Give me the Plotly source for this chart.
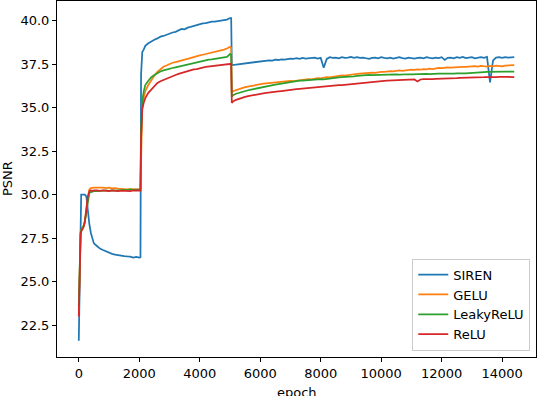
import plotly.graph_objects as go

# sampling grid of the training curves (epochs)
EPOCHS = ([0, 20, 40, 60, 80, 100, 150, 200, 250, 300, 350, 400, 450, 500]
          + list(range(600, 2001, 100))
          + [2040, 2060, 2080, 2100, 2150]
          + list(range(2200, 5001, 100))
          + [5040, 5060, 5100]
          + list(range(5200, 14401, 100)))

SIREN = [
    21.6, 24.5, 27.5, 29.5, 30.0, 30.0, 30.0, 30.0, 29.9, 29.0, 28.3, 27.8, 27.45, 27.2,
    27.05, 26.9, 26.82, 26.74, 26.66, 26.6, 26.56, 26.52, 26.5, 26.47, 26.45, 26.44, 26.38, 26.42, 26.38,
    26.4, 36.9, 37.8, 38.2, 38.35,
    38.55, 38.7, 38.82, 38.9, 38.98, 39.08, 39.12, 39.2, 39.25, 39.32, 39.36, 39.42, 39.52, 39.5, 39.6,
    39.64, 39.7, 39.74, 39.78, 39.84, 39.86, 39.92, 39.95, 39.94, 39.98, 40.0, 40.03, 40.06, 40.15,
    40.15, 37.5, 37.45,
    37.48, 37.5, 37.56, 37.55, 37.6, 37.58, 37.64, 37.62, 37.68, 37.66,
    37.7, 37.72, 37.7, 37.76, 37.74, 37.78, 37.76, 37.8, 37.82, 37.8,
    37.84, 37.8, 37.86, 37.82, 37.85, 37.84, 37.88, 37.82, 37.86, 37.3,
    37.8, 37.9, 37.86, 37.88, 37.84, 37.9, 37.86, 37.88, 37.92, 37.86,
    37.9, 37.86, 37.88, 37.84, 37.8, 37.86, 37.88, 37.84, 37.9, 37.86,
    37.84, 37.88, 37.82, 37.86, 37.9, 37.85, 37.82, 37.88, 37.86, 37.82,
    37.86, 37.88, 37.84, 37.9, 37.86, 37.84, 37.88, 37.85, 37.9, 37.74,
    37.86, 37.88, 37.84, 37.9, 37.86, 37.92, 37.85, 37.88, 37.9, 37.84,
    37.88, 37.9, 37.86, 37.92, 36.45, 37.72, 37.88, 37.9, 37.86, 37.9,
    37.88, 37.9, 37.9,
]

GELU = [
    23.3, 25.5, 27.2, 27.8, 27.95, 28.05, 28.15, 28.5, 29.2, 29.9, 30.3, 30.38, 30.4, 30.4,
    30.4, 30.42, 30.4, 30.38, 30.4, 30.36, 30.38, 30.35, 30.33, 30.34, 30.31, 30.32, 30.3, 30.3, 30.3,
    30.3, 33.0, 34.5, 35.1, 35.6,
    35.95, 36.3, 36.6, 36.85, 37.05, 37.2, 37.35, 37.42, 37.52, 37.58, 37.62, 37.68, 37.72, 37.76, 37.8,
    37.86, 37.9, 37.95, 38.0, 38.04, 38.08, 38.12, 38.15, 38.2, 38.25, 38.3, 38.34, 38.4, 38.5,
    38.45, 35.85, 35.95,
    36.02, 36.08, 36.12, 36.18, 36.22, 36.26, 36.3, 36.32, 36.35, 36.38,
    36.4, 36.42, 36.44, 36.43, 36.46, 36.48, 36.5, 36.52, 36.54, 36.53,
    36.56, 36.58, 36.6, 36.62, 36.64, 36.63, 36.66, 36.7, 36.68, 36.72,
    36.75, 36.74, 36.78, 36.8, 36.82, 36.86, 36.84, 36.88, 36.9, 36.92,
    36.94, 36.96, 36.95, 36.98, 37.0, 37.02, 37.0, 37.04, 37.06, 37.05,
    37.08, 37.1, 37.08, 37.12, 37.14, 37.12, 37.15, 37.16, 37.18, 37.17,
    37.2, 37.18, 37.22, 37.2, 37.24, 37.22, 37.26, 37.28, 37.27, 37.3,
    37.32, 37.3, 37.32, 37.34, 37.32, 37.35, 37.34, 37.36, 37.35, 37.38,
    37.36, 37.4, 37.38, 37.36, 37.4, 37.38, 37.42, 37.4, 37.38, 37.42,
    37.44, 37.42, 37.45,
]

LEAKY_RELU = [
    23.6, 25.8, 27.3, 27.85, 27.95, 28.05, 28.15, 28.45, 29.0, 29.7, 30.1, 30.15, 30.18, 30.2,
    30.2, 30.22, 30.2, 30.24, 30.22, 30.25, 30.23, 30.26, 30.25, 30.28, 30.26, 30.3, 30.28, 30.3, 30.32,
    30.3, 33.6, 34.9, 35.4, 35.95,
    36.3, 36.55, 36.75, 36.88, 37.0, 37.08, 37.14, 37.2, 37.25, 37.28, 37.32, 37.36, 37.4, 37.45, 37.5,
    37.56, 37.6, 37.64, 37.68, 37.7, 37.72, 37.76, 37.78, 37.8, 37.84, 37.86, 37.88, 37.92, 38.08,
    38.05, 35.62, 35.72,
    35.8, 35.86, 35.92, 35.96, 36.0, 36.04, 36.08, 36.12, 36.15, 36.18,
    36.22, 36.25, 36.28, 36.32, 36.35, 36.38, 36.42, 36.45, 36.5, 36.52,
    36.53, 36.55, 36.56, 36.58, 36.58, 36.6, 36.62, 36.62, 36.64, 36.63,
    36.66, 36.68, 36.7, 36.72, 36.74, 36.76, 36.76, 36.78, 36.8, 36.8,
    36.82, 36.84, 36.85, 36.86, 36.88, 36.87, 36.88, 36.89, 36.88, 36.9,
    36.9, 36.89, 36.9, 36.91, 36.9, 36.92, 36.91, 36.92, 36.92, 36.93,
    36.93, 36.93, 36.92, 36.94, 36.93, 36.95, 36.94, 36.95, 36.96, 36.95,
    36.96, 36.95, 36.96, 36.97, 36.96, 36.98, 36.97, 36.98, 37.0, 37.0,
    37.02, 37.02, 37.04, 37.05, 37.06, 37.06, 37.07, 37.07, 37.06, 37.07,
    37.07, 37.08, 37.07,
]

RELU = [
    23.0, 25.0, 27.0, 27.7, 27.88, 27.95, 28.1, 28.4, 29.2, 29.9, 30.2, 30.24, 30.22, 30.25,
    30.24, 30.22, 30.25, 30.23, 30.2, 30.24, 30.22, 30.2, 30.23, 30.21, 30.22, 30.2, 30.24, 30.22, 30.23,
    30.23, 33.2, 34.3, 34.9, 35.3,
    35.55, 35.85, 36.05, 36.25, 36.42, 36.52, 36.6, 36.68, 36.76, 36.82, 36.88, 36.94, 37.0, 37.04, 37.08,
    37.14, 37.2, 37.22, 37.28, 37.3, 37.34, 37.36, 37.4, 37.42, 37.45, 37.48, 37.5, 37.52, 37.54,
    37.52, 35.28, 35.35,
    35.45, 35.52, 35.58, 35.62, 35.66, 35.7, 35.74, 35.78, 35.8, 35.82,
    35.85, 35.88, 35.9, 35.92, 35.93, 35.95, 35.98, 36.0, 36.02, 36.04,
    36.06, 36.08, 36.1, 36.12, 36.13, 36.15, 36.16, 36.18, 36.2, 36.22,
    36.24, 36.25, 36.26, 36.28, 36.3, 36.3, 36.32, 36.34, 36.36, 36.38,
    36.38, 36.4, 36.42, 36.44, 36.46, 36.48, 36.5, 36.5, 36.52, 36.54,
    36.55, 36.56, 36.58, 36.58, 36.6, 36.6, 36.62, 36.6, 36.62, 36.62,
    36.5, 36.62, 36.64, 36.63, 36.65, 36.64, 36.66, 36.66, 36.68, 36.67,
    36.68, 36.69, 36.7, 36.7, 36.71, 36.72, 36.72, 36.73, 36.72, 36.74,
    36.74, 36.75, 36.75, 36.76, 36.75, 36.76, 36.76, 36.77, 36.76, 36.76,
    36.76, 36.77, 36.76,
]

SERIES = [
    ("SIREN", SIREN, "#1f77b4"),
    ("GELU", GELU, "#ff7f0e"),
    ("LeakyReLU", LEAKY_RELU, "#2ca02c"),
    ("ReLU", RELU, "#d62728"),
]

X_TICKS = [0, 2000, 4000, 6000, 8000, 10000, 12000, 14000]
X_LABELS = ["0", "2000", "4000", "6000", "8000", "10000", "12000", "14000"]
Y_TICKS = [22.5, 25.0, 27.5, 30.0, 32.5, 35.0, 37.5, 40.0]
Y_LABELS = ["22.5", "25.0", "27.5", "30.0", "32.5", "35.0", "37.5", "40.0"]

FONT = "DejaVu Sans, sans-serif"

fig = go.Figure()
for name, values, color in SERIES:
    fig.add_trace(go.Scatter(
        x=EPOCHS, y=values, name=name, mode="lines",
        line=dict(color=color, width=1.75),
    ))

axis_style = dict(
    showline=True, linecolor="black", linewidth=1, mirror=True,
    ticks="outside", ticklen=4, tickwidth=1, tickcolor="black",
    showgrid=False, zeroline=False, automargin=False,
    tickfont=dict(family=FONT, size=13, color="black"),
)

fig.update_layout(
    width=538, height=396,
    margin=dict(l=57, r=2, t=1, b=39),
    paper_bgcolor="white", plot_bgcolor="white",
    font=dict(family=FONT, size=13, color="black"),
    showlegend=True,
    legend=dict(
        x=0.988, y=0.018, xanchor="right", yanchor="bottom",
        bgcolor="rgba(255,255,255,0.8)", bordercolor="#cccccc", borderwidth=1,
        font=dict(family=FONT, size=13, color="black"),
        tracegroupgap=0,
    ),
    xaxis=dict(range=[-720, 15120], tickvals=X_TICKS, ticktext=X_LABELS, **axis_style),
    yaxis=dict(range=[20.67, 41.13], tickvals=Y_TICKS, ticktext=Y_LABELS, **axis_style),
    annotations=[
        # axis titles, placed like the matplotlib original
        dict(text="epoch", xref="paper", yref="paper", x=0.5, y=0,
             xanchor="center", yanchor="top", yshift=-26, showarrow=False,
             font=dict(family=FONT, size=13, color="black")),
        dict(text="PSNR", xref="paper", yref="paper", x=0, y=0.5, textangle=-90,
             xanchor="center", yanchor="middle", xshift=-50, showarrow=False,
             font=dict(family=FONT, size=13, color="black")),
    ],
)

fig.write_html("out.html", config={"displayModeBar": False},
               post_script="document.body.style.margin = '0';")
